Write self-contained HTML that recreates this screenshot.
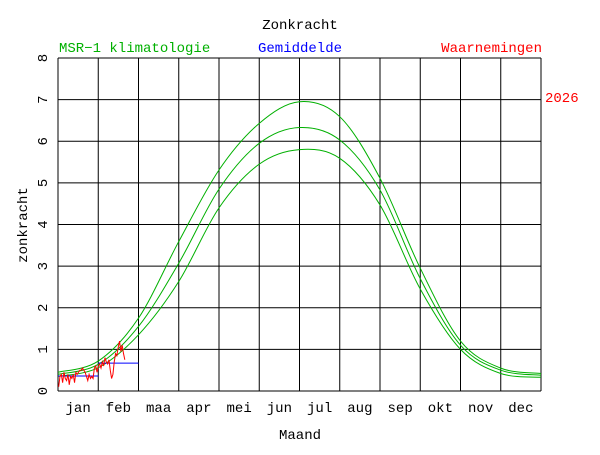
<!DOCTYPE html>
<html><head><meta charset="utf-8"><style>
body{margin:0;background:#fff;}
svg text{font-family:"Liberation Mono",monospace;font-size:14px;}
</style></head><body>
<svg width="600" height="450" xmlns="http://www.w3.org/2000/svg">
<g id="grid"></g>
<g id="series"></g>
<g id="labels"></g>
<text x="300" y="29" text-anchor="middle" fill="#000">Zonkracht</text>
<text x="59" y="52" fill="#00b000">MSR−1 klimatologie</text>
<text x="300" y="52" text-anchor="middle" fill="#0000ff">Gemiddelde</text>
<text x="542" y="52" text-anchor="end" fill="#ff0000">Waarnemingen</text>
<text x="545" y="102" fill="#ff0000">2026</text>
<text x="300" y="439" text-anchor="middle" fill="#000">Maand</text>
<text transform="translate(27,225) rotate(-90)" text-anchor="middle" fill="#000">zonkracht</text>
</svg>
<script>
const months=["jan","feb","maa","apr","mei","jun","jul","aug","sep","okt","nov","dec"];
const yTicks=[0,1,2,3,4,5,6,7,8];
const climUpper=[0.45,0.72,1.75,3.59,5.31,6.43,6.95,6.59,5.11,2.95,1.2,0.55,0.42];
const climMid=[0.4,0.64,1.55,3.07,4.85,5.95,6.33,6.03,4.83,2.7,1.1,0.5,0.38];
const climLower=[0.35,0.56,1.35,2.63,4.4,5.45,5.8,5.59,4.47,2.45,1.0,0.42,0.33];
const monthMeans=[0.36,0.67];
const obsJan=[0.1,0.35,0.4,0.2,0.45,0.3,0.25,0.4,0.15,0.35,0.3,0.4,0.2,0.45,0.4,0.45,0.5,0.5,0.55,0.5,0.45,0.35,0.25,0.4,0.3,0.35,0.3,0.55,0.6,0.45,0.6];
const obsFeb=[0.65,0.55,0.7,0.6,0.8,0.7,0.65,0.75,0.5,0.3,0.4,0.7,0.9,0.85,1.05,1.2,0.95,1.1,0.9,0.75];

const X0=58,X1=541,Y0=391,Y1=58;
const xm=m=>X0+m*(X1-X0)/12;
const xd=d=>X0+d*(X1-X0)/365;
const y=v=>Y0-v*(Y0-Y1)/8;
const NS="http://www.w3.org/2000/svg";
function mk(tag,attrs,parent){const e=document.createElementNS(NS,tag);for(const k in attrs)e.setAttribute(k,attrs[k]);parent.appendChild(e);return e;}
const grid=document.getElementById('grid'),series=document.getElementById('series'),labels=document.getElementById('labels');
yTicks.forEach(t=>{
  const l=mk('line',{x1:X0,x2:X1,y1:y(t),y2:y(t),stroke:'#000','stroke-width':1},grid);
  
  
  const tx=mk('text',{transform:`translate(47,${y(t)}) rotate(-90)`,'text-anchor':'middle',fill:'#000'},labels);
  tx.textContent=t;
  
  
});
for(let m=0;m<=12;m++){
  const l=mk('line',{x1:xm(m),x2:xm(m),y1:Y0,y2:Y1,stroke:'#000','stroke-width':1},grid);
  
  
}
months.forEach((mn,i)=>{
  const tx=mk('text',{x:xm(i+0.5),y:412,'text-anchor':'middle',fill:'#000'},labels);
  tx.textContent=mn;
  
  
});
function smooth(vals){
  const p=vals.map((v,i)=>[xm(i),y(v)]);
  let d=`M${p[0][0]},${p[0][1]}`;
  for(let i=0;i<p.length-1;i++){
    const a=p[Math.max(0,i-1)],b=p[i],c=p[i+1],e=p[Math.min(p.length-1,i+2)];
    d+=` C${b[0]+(c[0]-a[0])/6},${b[1]+(c[1]-a[1])/6} ${c[0]-(e[0]-b[0])/6},${c[1]-(e[1]-b[1])/6} ${c[0]},${c[1]}`;
  }
  return d;
}
[[climUpper,'clim-upper-line'],[climMid,'clim-mid-line'],[climLower,'clim-lower-line']].forEach(([v,n])=>{
  const p=mk('path',{d:smooth(v),fill:'none',stroke:'#00b000','stroke-width':1},series);
  
  
});
monthMeans.forEach((v,i)=>{
  const l=mk('line',{x1:xm(i),x2:xm(i+1),y1:y(v),y2:y(v),stroke:'#0000ff','stroke-width':1},series);
  
  
});
const obs=obsJan.concat(obsFeb);
const pts=obs.map((v,i)=>`${xd(i+0.5)},${y(v)}`).join(' ');
const pl=mk('polyline',{points:pts,fill:'none',stroke:'#ff0000','stroke-width':1},series);


</script>
</body></html>
